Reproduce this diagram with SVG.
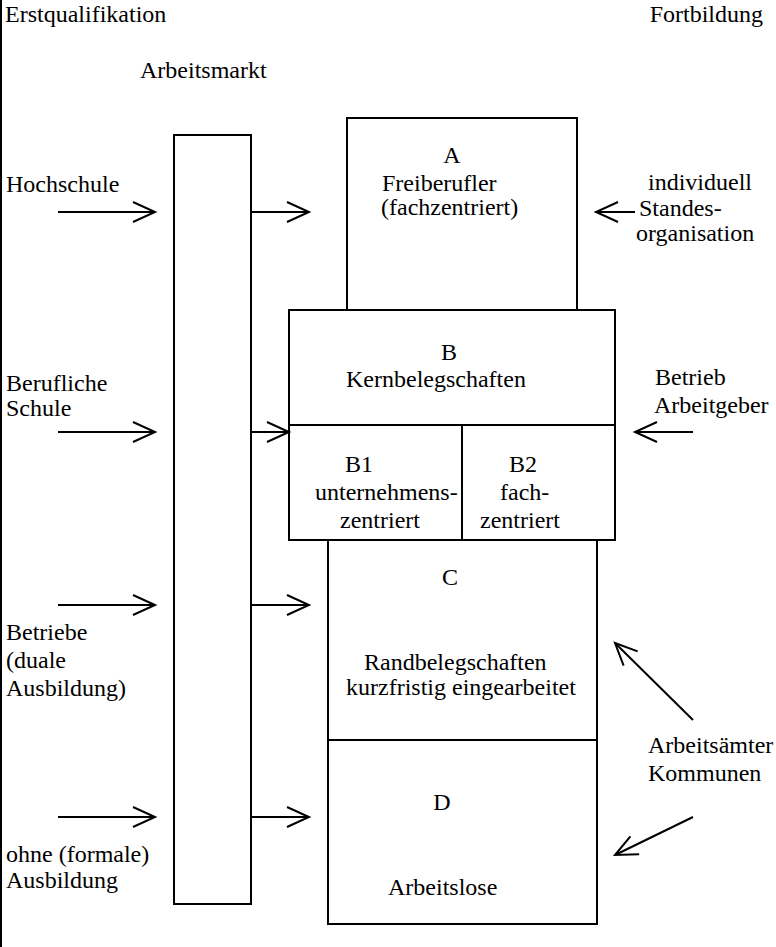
<svg xmlns="http://www.w3.org/2000/svg" width="776" height="947" viewBox="0 0 776 947">
  <style>
    .t { font-family: 'Liberation Serif', Tinos, 'Times New Roman', serif; font-size: 24px; fill: #000; }
    .box { fill: none; stroke: #000; stroke-width: 2; }
    .ln { fill: none; stroke: #000; stroke-width: 2; }
    .arr { fill: none; stroke: #000; stroke-width: 2; marker-end: url(#head); }
  </style>
  <defs>
    <marker id="head" markerUnits="userSpaceOnUse" markerWidth="26" markerHeight="24" refX="22" refY="10" orient="auto" overflow="visible">
      <path d="M0,0 L22,10 L0,20" fill="none" stroke="#000" stroke-width="2"/>
    </marker>
  </defs>
  <rect width="776" height="947" fill="#fff"/>

  <!-- left frame edge -->
  <line class="ln" x1="1" y1="0" x2="1" y2="947"/>

  <g class="t">
    <!-- headings -->
    <g id="headings">
      <text x="5" y="22">Erstqualifikation</text>
      <text x="763" y="22" text-anchor="end">Fortbildung</text>
      <text x="140" y="78">Arbeitsmarkt</text>
    </g>

    <!-- sources of first qualification -->
    <g id="src-hochschule"><text x="6" y="192">Hochschule</text></g>
    <g id="src-schule"><text x="6" y="391">Berufliche</text><text x="6" y="416">Schule</text></g>
    <g id="src-betriebe"><text x="6" y="640">Betriebe</text><text x="6" y="668">(duale</text><text x="6" y="696">Ausbildung)</text></g>
    <g id="src-ohne"><text x="6" y="862">ohne (formale)</text><text x="6" y="888">Ausbildung</text></g>

    <!-- providers of further training -->
    <g id="fb-individuell">
      <text x="648" y="190">individuell</text>
      <text x="639" y="216">Standes-</text>
      <text x="636" y="241">organisation</text>
    </g>
    <g id="fb-betrieb">
      <text x="655" y="385">Betrieb</text>
      <text x="654" y="413">Arbeitgeber</text>
    </g>
    <g id="fb-aemter">
      <text x="648" y="753">Arbeitsämter</text>
      <text x="648" y="781">Kommunen</text>
    </g>
  </g>

  <!-- labour market column -->
  <g id="arbeitsmarkt"><rect class="box" x="174" y="135" width="77" height="769"/></g>

  <!-- segment A -->
  <g id="box-a" class="t">
    <rect class="box" x="347" y="118" width="230" height="192"/>
    <text x="452" y="163" text-anchor="middle">A</text>
    <text x="382" y="191">Freiberufler</text>
    <text x="381" y="215">(fachzentriert)</text>
  </g>

  <!-- segment B with B1 / B2 -->
  <g id="box-b" class="t">
    <rect class="box" x="289" y="310" width="326" height="230"/>
    <line class="ln" x1="289" y1="425" x2="615" y2="425"/>
    <line class="ln" x1="462" y1="425" x2="462" y2="540"/>
    <text x="449" y="360" text-anchor="middle">B</text>
    <text x="346" y="387">Kernbelegschaften</text>
  </g>
  <g id="box-b1" class="t">
    <text x="345" y="472">B1</text>
    <text x="315" y="500">unternehmens-</text>
    <text x="340" y="528">zentriert</text>
  </g>
  <g id="box-b2" class="t">
    <text x="509" y="472">B2</text>
    <text x="500" y="500">fach-</text>
    <text x="480" y="528">zentriert</text>
  </g>

  <!-- segment C -->
  <g id="box-c" class="t">
    <rect class="box" x="328" y="540" width="269" height="200"/>
    <text x="450" y="585" text-anchor="middle">C</text>
    <text x="364" y="670">Randbelegschaften</text>
    <text x="346" y="695">kurzfristig eingearbeitet</text>
  </g>

  <!-- segment D -->
  <g id="box-d" class="t">
    <rect class="box" x="328" y="740" width="269" height="184"/>
    <text x="442" y="810" text-anchor="middle">D</text>
    <text x="388" y="895">Arbeitslose</text>
  </g>

  <!-- connectors -->
  <g id="connectors">
    <line class="arr" x1="58" y1="212" x2="155" y2="212"/>
    <line class="arr" x1="58" y1="432" x2="155" y2="432"/>
    <line class="arr" x1="58" y1="605" x2="155" y2="605"/>
    <line class="arr" x1="58" y1="817" x2="155" y2="817"/>

    <line class="arr" x1="251" y1="212" x2="309" y2="212"/>
    <line class="arr" x1="251" y1="432" x2="289" y2="432"/>
    <line class="arr" x1="251" y1="605" x2="309" y2="605"/>
    <line class="arr" x1="251" y1="817" x2="309" y2="817"/>

    <line class="arr" x1="635" y1="212" x2="596" y2="212"/>
    <line class="arr" x1="693" y1="432" x2="635" y2="432"/>
    <line class="arr" x1="693" y1="720" x2="615" y2="643"/>
    <line class="arr" x1="693" y1="817" x2="615" y2="855"/>
  </g>
</svg>
